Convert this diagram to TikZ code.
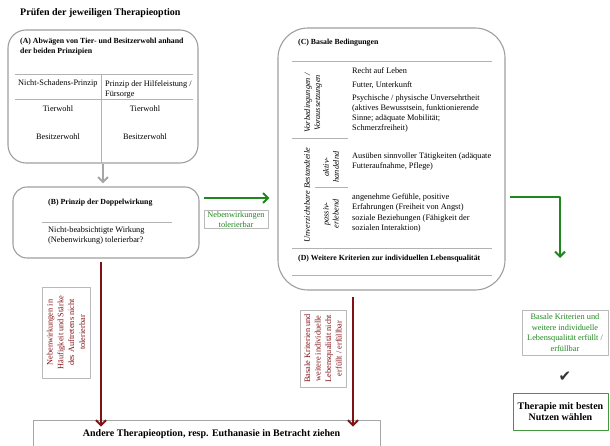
\documentclass[tikz,border=0pt]{standalone}
\usepackage{fontspec}
\setmainfont{Liberation Serif}
\newfontfamily\symfont{DejaVu Sans}
\usetikzlibrary{arrows.meta,positioning}
\definecolor{dgreen}{RGB}{30,135,30}
\definecolor{dred}{RGB}{128,18,22}
\newcommand{\fs}{\fontsize{8.3}{10}\selectfont}
\newcommand{\fh}{\fontsize{7.8}{10}\selectfont}
\newcommand{\fl}{\fontsize{10}{11.5}\selectfont}
\begin{document}
\begin{tikzpicture}[x=1pt,y=-1pt,line join=round,
    rbox/.style={draw=gray!75,line width=1.1pt,fill=white},
    lbox/.style={draw=gray!55,line width=0.5pt,font=\fontsize{8.3}{10.5}\selectfont,align=center,inner sep=1pt},
    tip/.style={-{Straight Barb[length=5pt,width=10pt,line width=2pt]}},
    garrow/.style={tip,dgreen,line width=2pt},
    rarrow/.style={tip,dred,line width=2pt},
    txt/.style={font=\fs,anchor=north west,align=left,inner sep=0pt},
    hd/.style={font=\fh\bfseries,anchor=north west,align=left,inner sep=0pt},
    sep/.style={gray!60,line width=0.8pt}]
    \clip (0,0) rectangle (610,446);
    \node[anchor=west,font=\fl\bfseries,inner sep=0pt] (title) at (20,13) {Prüfen der jeweiligen Therapieoption};
    % (A)
    \node[rbox,rounded corners=18pt,minimum width=190pt,minimum height=133pt] (A) at (103,96.5) {};
    \draw[sep] (15,74)--(193,74) (15,99)--(193,99) (101,74)--(101,163);
    \node[hd] at (20,38) {(A) Abwägen von Tier- und Besitzerwohl anhand\\der beiden Prinzipien};
    \node[txt] at (18,80) {Nicht-Schadens-Prinzip};
    \node[txt] at (105,80) {Prinzip der Hilfeleistung /\\Fürsorge};
    \node[font=\fs] at (58,109) {Tierwohl};
    \node[font=\fs] at (145,109) {Tierwohl};
    \node[font=\fs] at (58,137) {Besitzerwohl};
    \node[font=\fs] at (145,137) {Besitzerwohl};
    % (B)
    \node[rbox,rounded corners=14pt,minimum width=186pt,minimum height=71pt] (B) at (106,222.5) {};
    \draw[tip,gray!70,line width=2.4pt] (A.south)--([yshift=3pt]A.south |- B.north);
    \node[hd] at (48,199) {(B) Prinzip der Doppelwirkung};
    \draw[sep] (42,222)--(172,222);
    \node[txt] at (48,227) {Nicht-beabsichtigte Wirkung\\(Nebenwirkung) tolerierbar?};
    % (C)
    \node[rbox,rounded corners=30pt,minimum width=227pt,minimum height=262pt] (C) at (391.5,159) {};
    \draw[sep] (292,61)--(492,61) (292,138)--(348,138) (315,187)--(348,187) (292,248)--(492,248) (292,275)--(492,275);
    \node[hd] at (298,39) {(C) Basale Bedingungen};
    \node[font=\fs\itshape,rotate=90,align=center,inner sep=0pt] at (313,103) {Vorbedingungen /\\Voraussetzungen};
    \node[font=\fs\itshape,rotate=90,inner sep=0pt] at (307,195) {Unverzichtbare Bestandteile};
    \node[font=\fs\itshape,rotate=90,align=center,inner sep=0pt] at (331,167) {aktiv-\\handelnd};
    \node[font=\fs\itshape,rotate=90,align=center,inner sep=0pt] at (331,214) {passiv-\\erlebend};
    \node[txt] at (352,67) {Recht auf Leben};
    \node[txt] at (352,81) {Futter, Unterkunft};
    \node[txt] at (352,95) {Psychische / physische Unversehrtheit\\(aktives Bewusstsein, funktionierende\\Sinne; adäquate Mobilität;\\Schmerzfreiheit)};
    \node[txt] at (352,153) {Ausüben sinnvoller Tätigkeiten (adäquate\\Futteraufnahme, Pflege)};
    \node[txt] at (352,193) {angenehme Gefühle, positive\\Erfahrungen (Freiheit von Angst)};
    \node[txt] at (352,215) {soziale Beziehungen (Fähigkeit der\\sozialen Interaktion)};
    \node[hd] at (298,255) {(D) Weitere Kriterien zur individuellen Lebensqualität};
    % green path
    \coordinate (g0) at (204,198);
    \draw[garrow] (g0)--([xshift=-8pt]g0 -| C.west);
    \node[lbox,text=dgreen,minimum width=64pt,minimum height=18pt] (tol) at (236,219.5) {Nebenwirkungen\\tolerierbar};
    \coordinate (g1) at (510,197);
    \coordinate (g2) at (560,258);
    \draw[garrow] (g1)-|(g2);
    \node[lbox,text=dgreen,minimum width=86pt,minimum height=45pt] (ok) at (565,332.5) {Basale Kriterien und\\weitere individuelle\\Lebensqualität erfüllt /\\erfüllbar};
    \node[font=\symfont\fontsize{15}{15}\selectfont,text=black!80] (chk) at (565,377) {✔};
    \node[draw=dgreen!85,line width=1pt,font=\fl\bfseries,align=center,minimum width=95pt,minimum height=37pt] (ther) at (560.5,411.5) {Therapie mit besten\\Nutzen wählen};
    % red path
    \node[draw=gray!70,line width=0.8pt,font=\fl\bfseries,minimum width=347pt,minimum height=34pt,text depth=8pt] (E) at (206.5,437) {\hspace*{10pt}Andere Therapieoption, resp. Euthanasie in Betracht ziehen};
    \coordinate (r1) at (101,262);
    \draw[rarrow] (r1)--([yshift=-7pt]r1 |- E.north);
    \node[lbox,text=dred,rotate=90,minimum width=91pt,minimum height=48pt,font=\fontsize{8.3}{10.8}\selectfont] (nt) at (66,332.5) {Nebenwirkungen in\\Häufigkeit und Stärke\\des Auftretens nicht\\tolerierbar};
    \coordinate (r2) at (353,297);
    \draw[rarrow] (r2)--([yshift=-7pt]r2 |- E.north);
    \node[lbox,text=dred,rotate=90,minimum width=77pt,minimum height=46pt] (nb) at (323,348.5) {Basale Kriterien und\\weitere individuelle\\Lebensqualität nicht\\erfüllt / erfüllbar};
\end{tikzpicture}
\end{document}
